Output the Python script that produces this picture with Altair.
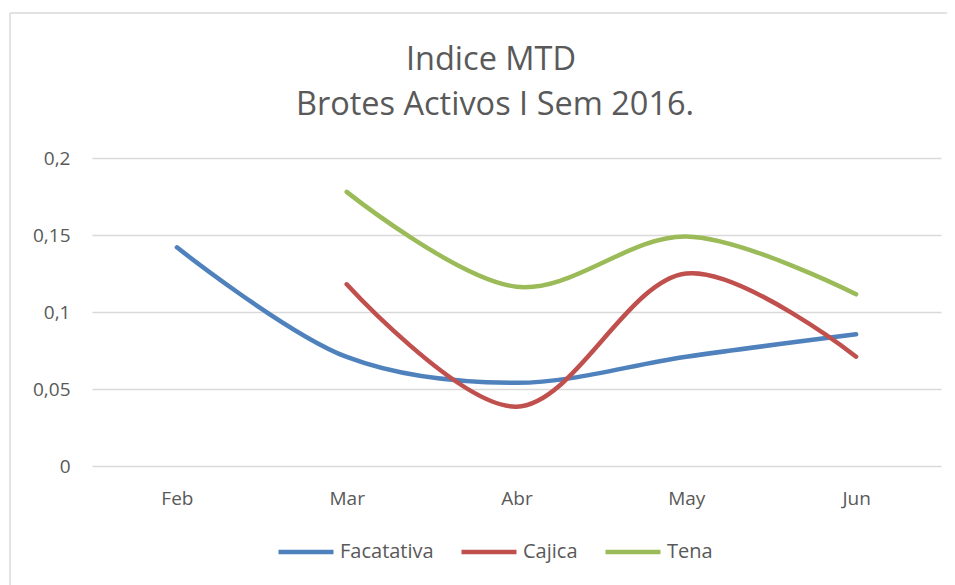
import altair as alt
import pandas as pd

months = ["Feb", "Mar", "Abr", "May", "Jun"]
facatativa = [0.142, 0.0708, 0.054, 0.071, 0.0855]
cajica = [None, 0.118, 0.0385, 0.125, 0.071]
tena = [None, 0.178, 0.1164, 0.149, 0.1115]
series_names = ["Facatativa", "Cajica", "Tena"]
series_colors = ["#4F81BD", "#C0504D", "#9BBB59"]
y_ticks = [0, 0.05, 0.1, 0.15, 0.2]
title_lines = ["Indice MTD", "Brotes Activos I Sem 2016."]

rows = []
for name, vals in zip(series_names, [facatativa, cajica, tena]):
    for m, v in zip(months, vals):
        if v is not None:
            rows.append({"Mes": m, "Serie": name, "Valor": v})
df = pd.DataFrame(rows)

FONT = "Open Sans"
GRAY = "#595959"

lines = alt.Chart(df).mark_line(
    interpolate="catmull-rom", strokeWidth=4.5, strokeCap="round"
).encode(
    x=alt.X("Mes:N", sort=months, title=None,
            scale=alt.Scale(type="point", padding=0.5),
            axis=alt.Axis(domain=False, ticks=False, grid=False, labelAngle=0,
                          labelPadding=23, labelFontSize=19, labelColor=GRAY,
                          labelFont=FONT)),
    y=alt.Y("Valor:Q", title=None,
            scale=alt.Scale(domain=[0, 0.2], nice=False),
            axis=alt.Axis(values=y_ticks, domain=False, ticks=False,
                          gridColor="#d9d9d9", gridWidth=1.5,
                          labelExpr="replace(format(datum.value, '.2~f'), '.', ',')",
                          labelPadding=22, labelFontSize=19, labelColor=GRAY,
                          labelFont=FONT)),
    color=alt.Color("Serie:N", sort=series_names,
                    scale=alt.Scale(domain=series_names, range=series_colors),
                    legend=alt.Legend(title=None, orient="none", direction="horizontal",
                                      legendX=184, legendY=364,
                                      symbolType="stroke", symbolSize=3025,
                                      symbolStrokeWidth=4.5, labelFontSize=20,
                                      labelColor=GRAY, labelFont=FONT,
                                      labelOffset=4, columnPadding=18)),
)

border_df = pd.DataFrame({"a": [0]})
top_border = alt.Chart(border_df).mark_rule(color="#d9d9d9", strokeWidth=1.5).encode(
    x=alt.value(-82), x2=alt.value(880), y=alt.value(-145))
left_border = alt.Chart(border_df).mark_rule(color="#d9d9d9", strokeWidth=1.5).encode(
    x=alt.value(-82), y=alt.value(-145), y2=alt.value(700))

title1 = alt.Chart(pd.DataFrame({"t": [title_lines[0]]})).mark_text(
    font=FONT, fontSize=32.5, color=GRAY, align="center", baseline="alphabetic"
).encode(text="t:N", x=alt.value(399), y=alt.value(-88))
title2 = alt.Chart(pd.DataFrame({"t": [title_lines[1]]})).mark_text(
    font=FONT, fontSize=32.5, color=GRAY, align="center", baseline="alphabetic"
).encode(text="t:N", x=alt.value(403), y=alt.value(-43))

chart = alt.layer(top_border, left_border, title1, title2, lines).properties(
    width=849, height=308,
    autosize=alt.AutoSizeParams(type="none"),
    padding={"left": 84, "top": 150, "right": 6, "bottom": 140},
).configure_view(stroke=None)

chart.save("out.html", embed_options={"renderer": "svg", "actions": False})
